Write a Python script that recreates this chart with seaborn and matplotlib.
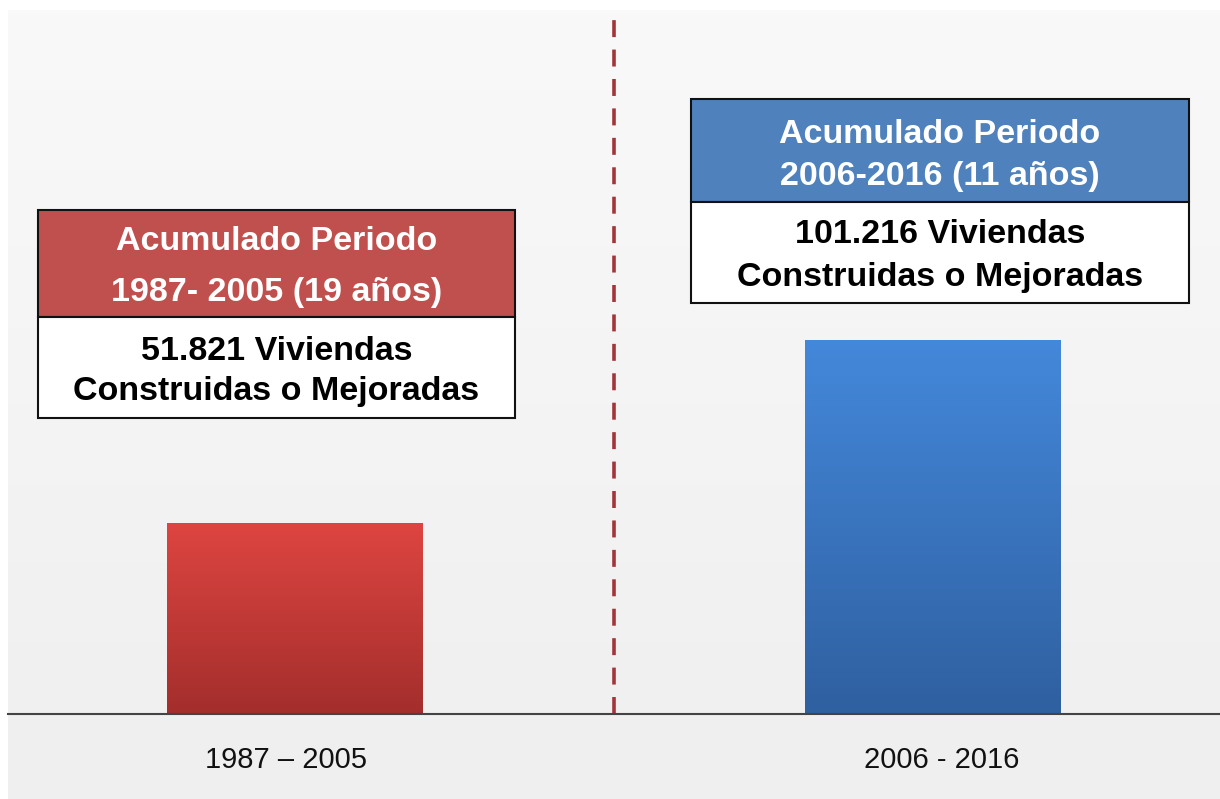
import numpy as np
import pandas as pd
import matplotlib
matplotlib.use("Agg")
import matplotlib.pyplot as plt
import matplotlib.transforms as mtransforms
from matplotlib.patches import Rectangle
from matplotlib.colors import LinearSegmentedColormap
import seaborn as sns

# data
periods = ["1987 – 2005", "2006 - 2016"]
viviendas = [51821, 101216]
header_line1 = ["Acumulado Periodo", "Acumulado Periodo"]
header_line2 = ["1987- 2005 (19 años)", "2006-2016 (11 años)"]
body_line2 = ["Construidas o Mejoradas", "Construidas o Mejoradas"]

bar_top_colors = ["#de4541", "#4488db"]
bar_bottom_colors = ["#a32e2c", "#2f60a0"]
header_colors = ["#c0504d", "#4f81bd"]

W, H = 1220, 799


def fx(x):
    return x / W


def fy(y):
    return 1 - y / H


def main():
    sns.set_theme(style="white")
    plt.rcParams["font.family"] = ["Liberation Sans", "DejaVu Sans"]

    df = pd.DataFrame({"Periodo": periods, "Viviendas": viviendas})

    fig = plt.figure(figsize=(W / 100, H / 100), dpi=100)
    fig.patch.set_facecolor("white")

    # light gray panel behind everything
    bg = fig.add_axes([fx(8), 0, 1 - fx(8), fy(10)], zorder=-5)
    grad = np.linspace(0, 1, 256).reshape(-1, 1)
    bg_cmap = LinearSegmentedColormap.from_list("bg", ["#f9f9f9", "#efefef"])
    bg.imshow(grad, cmap=bg_cmap, aspect="auto", extent=[0, 1, 0, 1], origin="upper")
    bg.axis("off")

    ax = fig.add_axes([fx(8), fy(714), 1 - fx(8), fy(20) - fy(714)])
    ax.set_facecolor("none")

    sns.barplot(data=df, x="Periodo", y="Viviendas", hue="Periodo",
                palette=bar_top_colors, width=0.4, legend=False,
                errorbar=None, ax=ax, zorder=2)

    # vertical gradient inside each bar
    for patch, c_top, c_bot in zip(ax.patches, bar_top_colors, bar_bottom_colors):
        bb = patch.get_bbox()
        cmap = LinearSegmentedColormap.from_list("g", [c_top, c_bot])
        im = ax.imshow(grad, cmap=cmap, aspect="auto", origin="upper",
                       extent=[bb.x0, bb.x1, bb.y0, bb.y1], zorder=3)
        im.set_clip_path(patch)
        patch.set_edgecolor("none")

    ax.axvline(0.5, color="#a2353a", lw=2.6, dashes=(4.7, 3.45), zorder=1)

    ax.set_xlim(-0.45, 1.45)
    ax.set_ylim(0, 188000)
    ax.set_xlabel("")
    ax.set_ylabel("")
    ax.set_yticks([])
    ax.tick_params(axis="x", length=0, pad=23, labelsize=21, colors="#111111")
    # labels sit a little off the bar centres in the original
    for lab, dx in zip(ax.get_xticklabels(), [-0.09, 0.09]):
        lab.set_transform(lab.get_transform() +
                          mtransforms.ScaledTranslation(dx, 0, fig.dpi_scale_trans))
    for side in ["top", "right", "left"]:
        ax.spines[side].set_visible(False)
    ax.spines["bottom"].set_color("#444444")
    ax.spines["bottom"].set_linewidth(1.5)
    ax.spines["bottom"].set_zorder(5)

    # annotation boxes: (x0, x1, top, mid, bottom) in pixels, plus text baselines
    boxes = [(38, 515, 210, 317, 418), (691, 1189, 99, 202, 303)]
    baselines = [(250, 301, 360, 400), (143, 185, 243, 286)]
    for i, (x0, x1, top, mid, bot) in enumerate(boxes):
        fig.add_artist(Rectangle((fx(x0), fy(mid)), fx(x1 - x0), fy(top) - fy(mid),
                                 transform=fig.transFigure, facecolor=header_colors[i],
                                 edgecolor="#111111", lw=1.5, zorder=10))
        fig.add_artist(Rectangle((fx(x0), fy(bot)), fx(x1 - x0), fy(mid) - fy(bot),
                                 transform=fig.transFigure, facecolor="white",
                                 edgecolor="#111111", lw=1.5, zorder=10))
        cx = fx((x0 + x1) / 2)
        b1, b2, b3, b4 = baselines[i]
        value_txt = f"{viviendas[i]:,}".replace(",", ".") + " Viviendas"
        fig.text(cx, fy(b1), header_line1[i], ha="center", va="baseline",
                 color="white", fontsize=24.5, fontweight="bold", zorder=11)
        fig.text(cx, fy(b2), header_line2[i], ha="center", va="baseline",
                 color="white", fontsize=24.5, fontweight="bold", zorder=11)
        fig.text(cx, fy(b3), value_txt, ha="center", va="baseline",
                 color="black", fontsize=24.5, fontweight="bold", zorder=11)
        fig.text(cx, fy(b4), body_line2[i], ha="center", va="baseline",
                 color="black", fontsize=24.5, fontweight="bold", zorder=11)

    fig.savefig("out.png", dpi=100)


if __name__ == "__main__":
    main()
